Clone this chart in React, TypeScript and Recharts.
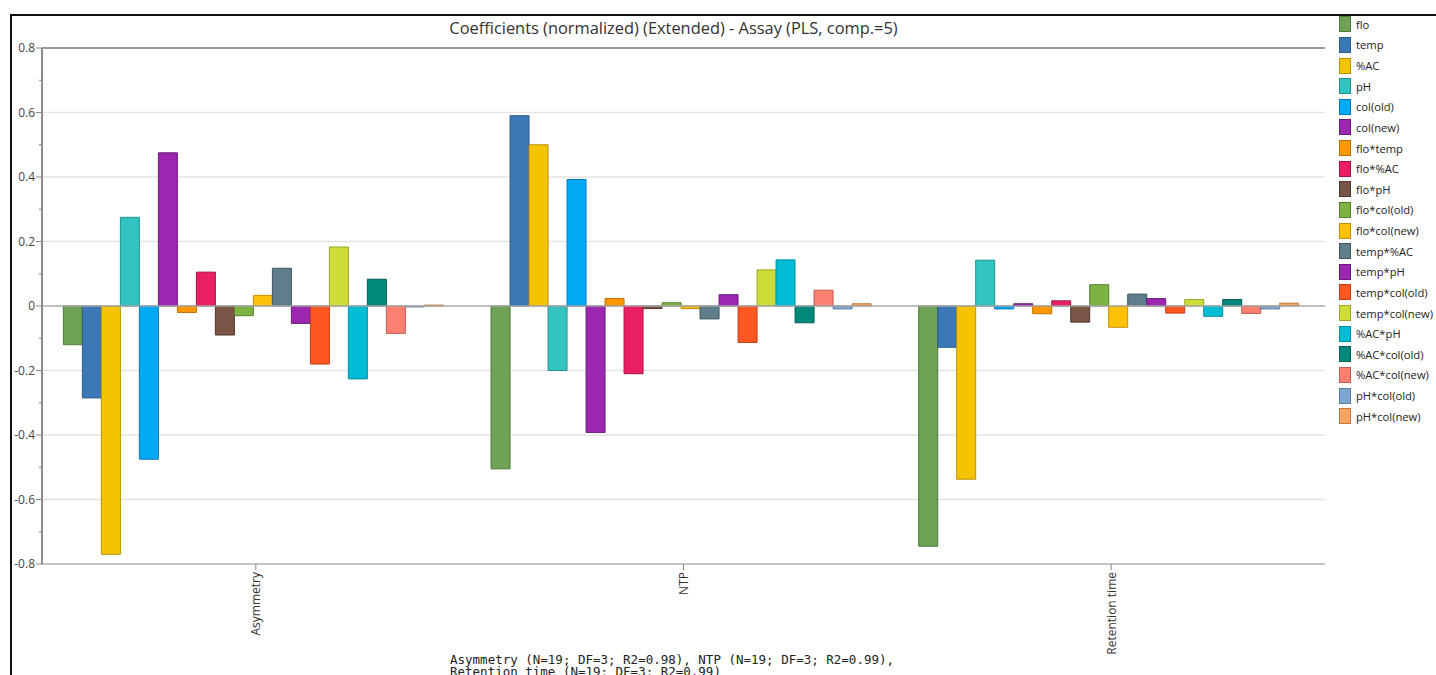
import { Bar, BarChart, CartesianGrid, ReferenceLine, XAxis, YAxis } from "recharts";

const categories = ["Asymmetry", "NTP", "Retention time"];

const terms = [
  "flo", "temp", "%AC", "pH", "col(old)", "col(new)", "flo*temp", "flo*%AC", "flo*pH", "flo*col(old)",
  "flo*col(new)", "temp*%AC", "temp*pH", "temp*col(old)", "temp*col(new)", "%AC*pH", "%AC*col(old)",
  "%AC*col(new)", "pH*col(old)", "pH*col(new)",
];

// normalized coefficients, one value per term
const asymmetry = [
  -0.12, -0.285, -0.77, 0.275, -0.475, 0.475, -0.02, 0.105, -0.09, -0.03,
  0.033, 0.117, -0.054, -0.18, 0.183, -0.226, 0.083, -0.085, -0.003, 0.003,
];
const ntp = [
  -0.505, 0.59, 0.5, -0.2, 0.392, -0.392, 0.023, -0.21, -0.008, 0.01,
  -0.008, -0.04, 0.035, -0.113, 0.112, 0.143, -0.052, 0.049, -0.009, 0.007,
];
const retentionTime = [
  -0.745, -0.128, -0.537, 0.142, -0.009, 0.007, -0.024, 0.016, -0.05, 0.066,
  -0.066, 0.037, 0.023, -0.022, 0.02, -0.032, 0.02, -0.023, -0.009, 0.009,
];

const fills = [
  "#6fa254", "#3b78b5", "#f5c400", "#33c4c1", "#03a9f4", "#9c27b0", "#ff9800", "#e91e63", "#795548", "#7cb342",
  "#ffc107", "#607d8b", "#9c27b0", "#ff5722", "#cddc39", "#00bcd4", "#00897b", "#fa8072", "#7ba7d0", "#f4a460",
];
const edges = [
  "#4d7a3a", "#2a5a8a", "#b89200", "#25908e", "#0277bd", "#6a1b7a", "#c06f00", "#a8134a", "#4e362d", "#55802b",
  "#c28f00", "#3f5560", "#6a1b7a", "#c03d12", "#9aa62a", "#0090a3", "#005f55", "#c25c50", "#5a7fa3", "#c07c3c",
];

const yTicks = [-0.8, -0.7, -0.6, -0.5, -0.4, -0.3, -0.2, -0.1, 0, 0.1, 0.2, 0.3, 0.4, 0.5, 0.6, 0.7, 0.8];
const gridValues = [-0.6, -0.4, -0.2, 0.2, 0.4, 0.6];

const title = "Coefficients (normalized) (Extended) - Assay (PLS, comp.=5)";
const footnote = [
  "Asymmetry (N=19; DF=3; R2=0.98), NTP (N=19; DF=3; R2=0.99),",
  "Retention time (N=19; DF=3; R2=0.99)",
];

const series = [asymmetry, ntp, retentionTime];
const rows = categories.map((name, c) => {
  const row: Record<string, string | number> = { name };
  series[c].forEach((v, i) => {
    row[`t${i}`] = v;
  });
  return row;
});

const uiFont = "'Open Sans', 'Noto Sans', sans-serif";

function YTick({ x, y, payload }: any) {
  const v = payload.value as number;
  const major = Math.round(Math.abs(v) * 10) % 2 === 0;
  return (
    <g>
      <line x1={x - (major ? 6 : 3)} x2={x} y1={y} y2={y} stroke="#888" strokeWidth={1} />
      {major && (
        <text x={x - 7} y={y} dy={4} textAnchor="end" fontSize={12} fontFamily={uiFont} fill="#444">
          {v === 0 ? "0" : String(v)}
        </text>
      )}
    </g>
  );
}

function XTick({ x, y, payload }: any) {
  return (
    <text
      x={x}
      y={y}
      transform={`rotate(-90 ${x} ${y})`}
      textAnchor="end"
      dominantBaseline="central"
      fontSize={12}
      fontFamily={uiFont}
      fill="#333"
    >
      {payload.value}
    </text>
  );
}

export default function App() {
  return (
    <div
      style={{
        position: "fixed",
        left: 0,
        top: 0,
        width: 1436,
        height: 675,
        overflow: "hidden",
        background: "#fff",
      }}
    >
      {/* window frame */}
      <div style={{ position: "absolute", left: 10, top: 14, right: 0, height: 2, background: "#111" }} />
      <div style={{ position: "absolute", left: 10, top: 14, width: 2, bottom: 0, background: "#111" }} />

      <div
        style={{
          position: "absolute",
          left: 42,
          width: 1263,
          top: 17,
          lineHeight: "22px",
          textAlign: "center",
          fontFamily: uiFont,
          fontSize: 16.4,
          color: "#333",
        }}
      >
        {title}
      </div>

      <div style={{ position: "absolute", left: 0, top: 0 }}>
        <BarChart
          width={1436}
          height={675}
          data={rows}
          margin={{ top: 48, right: 111, bottom: 31, left: 10 }}
          barCategoryGap="5%"
          barGap={0}
        >
          <CartesianGrid vertical={false} horizontalValues={gridValues} stroke="#e4e4e4" strokeWidth={1.5} />
          <XAxis
            dataKey="name"
            height={80}
            interval={0}
            tickSize={6}
            tickMargin={2}
            tickLine={{ stroke: "#888" }}
            axisLine={{ stroke: "#c4c4c4", strokeWidth: 2 }}
            tick={<XTick />}
          />
          <YAxis
            width={32}
            domain={[-0.8, 0.8]}
            ticks={yTicks}
            interval={0}
            allowDataOverflow
            tickSize={0}
            tickMargin={0}
            tickLine={false}
            axisLine={{ stroke: "#8c8c8c", strokeWidth: 2 }}
            tick={<YTick />}
          />
          <YAxis
            yAxisId="frame"
            orientation="right"
            width={0}
            domain={[-0.8, 0.8]}
            tick={false}
            tickLine={false}
            axisLine={{ stroke: "#c4c4c4", strokeWidth: 2 }}
          />
          <ReferenceLine y={0.8} stroke="#9a9a9a" strokeWidth={2} />
          {terms.map((t, i) => (
            <Bar
              key={t}
              dataKey={`t${i}`}
              name={t}
              fill={fills[i]}
              stroke={edges[i]}
              strokeWidth={1}
              isAnimationActive={false}
            />
          ))}
          <ReferenceLine y={0} stroke="#a8a8a8" strokeWidth={1.5} />
        </BarChart>
      </div>

      {/* legend */}
      <div style={{ position: "absolute", left: 1339, top: 14, fontFamily: uiFont, fontSize: 11.2, color: "#222" }}>
        {terms.map((t, i) => (
          <div key={t} style={{ display: "flex", alignItems: "center", height: 20.63 }}>
            <span
              style={{
                display: "inline-block",
                boxSizing: "border-box",
                width: 12,
                height: 16,
                background: fills[i],
                border: `1px solid ${edges[i]}`,
                marginRight: 5,
              }}
            />
            <span style={{ whiteSpace: "nowrap" }}>{t}</span>
          </div>
        ))}
      </div>

      <div
        style={{
          position: "absolute",
          left: 450,
          top: 654,
          fontFamily: "'DejaVu Sans Mono', 'Liberation Mono', monospace",
          fontSize: 12.5,
          lineHeight: "12px",
          color: "#222",
          whiteSpace: "pre",
        }}
      >
        {footnote.map((line) => (
          <div key={line}>{line}</div>
        ))}
      </div>
    </div>
  );
}
